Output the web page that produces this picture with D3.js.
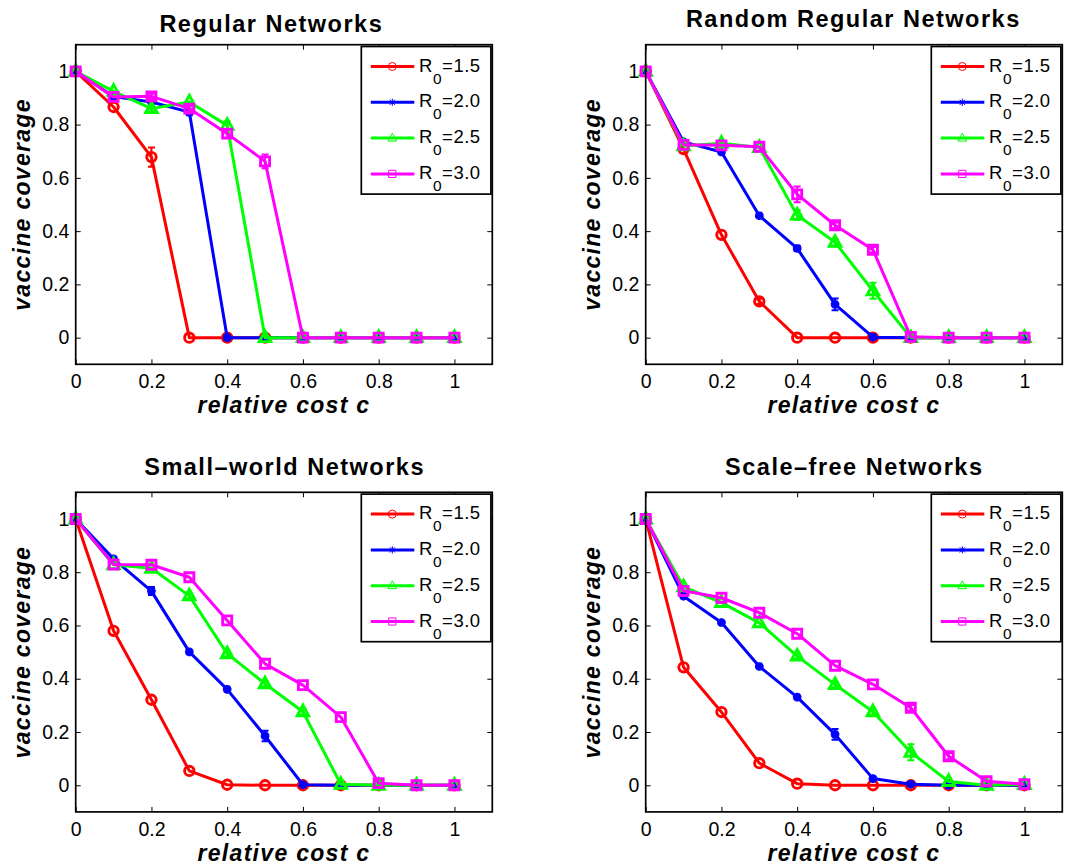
<!DOCTYPE html>
<html>
<head>
<meta charset="utf-8">
<script src="https://cdn.jsdelivr.net/npm/d3@7"></script>
<style>
  html, body { margin: 0; padding: 0; background: #fff; }
  svg { display: block; }
  text { font-family: "Liberation Sans", Arial, Helvetica, sans-serif; fill: #000; }
</style>
</head>
<body>
<svg id="fig" width="1068" height="865"></svg>
<script>
// ---- data ----------------------------------------------------------------
const costs = [0, 0.1, 0.2, 0.3, 0.4, 0.5, 0.6, 0.7, 0.8, 0.9, 1.0];
const r0Labels = ["1.5", "2.0", "2.5", "3.0"];
const panelTitles = ["Regular Networks", "Random Regular Networks", "Small\u2013world Networks", "Scale\u2013free Networks"];
const tickValues = [0, 0.2, 0.4, 0.6, 0.8, 1];
const tickLabels = ["0", "0.2", "0.4", "0.6", "0.8", "1"];

// vaccine coverage, one row per R0 (1.5, 2.0, 2.5, 3.0)
const regularCoverage = [
  [1, 0.866, 0.678, 0, 0, 0, 0, 0, 0, 0, 0],
  [1, 0.905, 0.885, 0.847, 0, 0, 0, 0, 0, 0, 0],
  [1, 0.925, 0.860, 0.885, 0.797, 0, 0, 0, 0, 0, 0],
  [1, 0.904, 0.906, 0.860, 0.766, 0.662, 0, 0, 0, 0, 0]
];
const randomRegularCoverage = [
  [1, 0.708, 0.386, 0.136, 0, 0, 0, 0, 0, 0, 0],
  [1, 0.735, 0.697, 0.458, 0.335, 0.125, 0.002, 0, 0, 0, 0],
  [1, 0.720, 0.730, 0.714, 0.460, 0.358, 0.176, 0, 0, 0, 0],
  [1, 0.724, 0.722, 0.717, 0.538, 0.422, 0.330, 0.003, 0, 0, 0]
];
const smallWorldCoverage = [
  [1, 0.580, 0.321, 0.054, 0.002, 0, 0, 0, 0, 0, 0],
  [1, 0.850, 0.729, 0.501, 0.360, 0.185, 0.002, 0, 0, 0, 0],
  [1, 0.828, 0.815, 0.711, 0.494, 0.381, 0.276, 0.004, 0, 0, 0],
  [1, 0.829, 0.828, 0.781, 0.619, 0.456, 0.376, 0.256, 0.008, 0, 0]
];
const scaleFreeCoverage = [
  [1, 0.443, 0.275, 0.083, 0.006, 0, 0, 0, 0, 0, 0],
  [1, 0.710, 0.611, 0.446, 0.331, 0.191, 0.025, 0.004, 0, 0, 0],
  [1, 0.745, 0.686, 0.610, 0.485, 0.378, 0.276, 0.124, 0.014, 0, 0.003],
  [1, 0.730, 0.704, 0.648, 0.569, 0.449, 0.379, 0.291, 0.109, 0.015, 0.004]
];

// error-bar half widths, same layout as the coverage rows
const regularErr = [
  [0, 0.008, 0.036, 0, 0, 0, 0, 0, 0, 0, 0],
  [0, 0.008, 0.008, 0.012, 0, 0, 0, 0, 0, 0, 0],
  [0, 0.008, 0.010, 0.008, 0.015, 0, 0, 0, 0, 0, 0],
  [0, 0.008, 0.010, 0.010, 0.015, 0.026, 0, 0, 0, 0, 0]
];
const randomRegularErr = [
  [0, 0.008, 0.008, 0.010, 0, 0, 0, 0, 0, 0, 0],
  [0, 0.008, 0.008, 0.008, 0.010, 0.022, 0.004, 0, 0, 0, 0],
  [0, 0.008, 0.008, 0.008, 0.018, 0.012, 0.030, 0, 0, 0, 0],
  [0, 0.008, 0.008, 0.008, 0.030, 0.010, 0.010, 0.004, 0, 0, 0]
];
const smallWorldErr = [
  [0, 0.008, 0.008, 0.006, 0.002, 0, 0, 0, 0, 0, 0],
  [0, 0.008, 0.015, 0.008, 0.008, 0.020, 0.002, 0, 0, 0, 0],
  [0, 0.008, 0.008, 0.010, 0.010, 0.010, 0.010, 0.004, 0, 0, 0],
  [0, 0.008, 0.008, 0.008, 0.008, 0.008, 0.008, 0.008, 0.006, 0, 0]
];
const scaleFreeErr = [
  [0, 0.008, 0.008, 0.008, 0.004, 0, 0, 0, 0, 0, 0],
  [0, 0.008, 0.008, 0.008, 0.008, 0.020, 0.008, 0.004, 0, 0, 0],
  [0, 0.008, 0.008, 0.008, 0.010, 0.010, 0.010, 0.030, 0.008, 0, 0.003],
  [0, 0.008, 0.008, 0.008, 0.008, 0.008, 0.008, 0.010, 0.012, 0.008, 0.004]
];

const panelCoverage = [regularCoverage, randomRegularCoverage, smallWorldCoverage, scaleFreeCoverage];
const panelErr = [regularErr, randomRegularErr, smallWorldErr, scaleFreeErr];

// ---- styling / layout ----------------------------------------------------
const seriesColors = ["#ff0000", "#0000ff", "#00ff00", "#ff00ff"];
const seriesMarkers = ["circle", "asterisk", "triangle", "square"];
const panels = [
  { left: 75.7,  top: 44.7,  titleX: 271.3, titleY: 31.7 },
  { left: 645.7, top: 44.7,  titleX: 853.3, titleY: 26.7 },
  { left: 75.7,  top: 492.3, titleX: 284.6, titleY: 475.0 },
  { left: 645.7, top: 492.3, titleX: 854.3, titleY: 475.0 }
];
const plotW = 416.6, plotH = 319.6;
const FONT = '"Liberation Sans", Arial, Helvetica, sans-serif';

function markerPath(kind, s) {
  switch (kind) {
    case "circle":
      return `M${s},0A${s},${s} 0 1,1 ${-s},0A${s},${s} 0 1,1 ${s},0Z`;
    case "square":
      return `M${-s},${-s}H${s}V${s}H${-s}Z`;
    case "triangle": {
      const h = s * 1.15;
      return `M0,${-h}L${s},${h * 0.6}L${-s},${h * 0.6}Z`;
    }
    case "asterisk": {
      const d = s * 0.72;
      return `M${-s},0H${s}M0,${-s}V${s}M${-d},${-d}L${d},${d}M${-d},${d}L${d},${-d}`;
    }
  }
}
const plotMarkerSize = { circle: 4.7, square: 4.5, triangle: 5.8, asterisk: 4.3 };
const legendMarkerSize = { circle: 4.0, square: 3.6, triangle: 4.3, asterisk: 3.6 };

const svg = d3.select("#fig");

panels.forEach((p, pi) => {
  const x = d3.scaleLinear().domain([0, 1.1]).range([p.left, p.left + plotW]);
  const y = d3.scaleLinear().domain([-0.1, 1.1]).range([p.top + plotH, p.top]);
  const g = svg.append("g");
  const bottom = p.top + plotH;

  // inward ticks on all four sides
  const fmt = (d, i) => tickLabels[i];
  const axB = g.append("g").attr("transform", `translate(0,${bottom})`)
    .call(d3.axisBottom(x).tickValues(tickValues).tickFormat(fmt).tickSizeInner(-5).tickSizeOuter(0).tickPadding(10));
  const axT = g.append("g").attr("transform", `translate(0,${p.top})`)
    .call(d3.axisTop(x).tickValues(tickValues).tickFormat("").tickSizeInner(-5).tickSizeOuter(0));
  const axL = g.append("g").attr("transform", `translate(${p.left},0)`)
    .call(d3.axisLeft(y).tickValues(tickValues).tickFormat(fmt).tickSizeInner(-5).tickSizeOuter(0).tickPadding(6.4));
  const axR = g.append("g").attr("transform", `translate(${p.left + plotW},0)`)
    .call(d3.axisRight(y).tickValues(tickValues).tickFormat("").tickSizeInner(-5).tickSizeOuter(0));
  [axB, axT, axL, axR].forEach(a => {
    a.select(".domain").remove();
    a.selectAll(".tick line").attr("stroke", "#000").attr("stroke-width", 1);
    a.selectAll("text").attr("font-family", FONT).attr("font-size", 19.5).attr("fill", "#000");
  });
  axB.selectAll("text").attr("dy", "0.71em");

  // data series: line, error bars, markers
  panelCoverage[pi].forEach((vals, si) => {
    const color = seriesColors[si];
    const pts = costs.map((c, k) => ({ c, v: vals[k], e: panelErr[pi][si][k] }));
    const line = d3.line().x(d => x(d.c)).y(d => y(d.v));
    g.append("path").datum(pts).attr("d", line)
      .attr("fill", "none").attr("stroke", color).attr("stroke-width", 3)
      .attr("stroke-linejoin", "round");
    const eb = g.append("g").attr("stroke", color).attr("stroke-width", 2).attr("fill", "none");
    pts.filter(d => d.e > 0.009).forEach(d => {
      const cx = x(d.c), y0 = y(d.v - d.e), y1 = y(d.v + d.e);
      eb.append("path").attr("d", `M${cx},${y0}V${y1}M${cx - 3.5},${y0}H${cx + 3.5}M${cx - 3.5},${y1}H${cx + 3.5}`);
    });
    const kind = seriesMarkers[si];
    g.append("g").selectAll("path").data(pts).join("path")
      .attr("d", markerPath(kind, plotMarkerSize[kind]))
      .attr("transform", d => `translate(${x(d.c)},${y(d.v)})`)
      .attr("fill", "none").attr("stroke", color).attr("stroke-width", 2.9);
  });

  // axes box
  g.append("rect").attr("x", p.left).attr("y", p.top).attr("width", plotW).attr("height", plotH)
    .attr("fill", "none").attr("stroke", "#000").attr("stroke-width", 1.7);

  // title and axis labels
  g.append("text").attr("x", p.titleX).attr("y", p.titleY).attr("text-anchor", "middle")
    .attr("font-size", 23.5).attr("font-weight", "bold").attr("letter-spacing", 1.5)
    .text(panelTitles[pi]);
  g.append("text").attr("x", p.left + plotW / 2).attr("y", bottom + 48.6).attr("text-anchor", "middle")
    .attr("font-size", 23).attr("font-weight", "bold").attr("font-style", "italic").attr("letter-spacing", 1.3)
    .text("relative cost c");
  g.append("text").attr("transform", `translate(${p.left - 46},${p.top + plotH / 2}) rotate(-90)`)
    .attr("text-anchor", "middle")
    .attr("font-size", 23).attr("font-weight", "bold").attr("font-style", "italic").attr("letter-spacing", 1.3)
    .text("vaccine coverage");

  // legend
  const lx = p.left + 285.6, ly = p.top + 1.8, lw = 129.6, lh = 147.6;
  const lg = g.append("g");
  lg.append("rect").attr("x", lx).attr("y", ly).attr("width", lw).attr("height", lh)
    .attr("fill", "#fff").attr("stroke", "#000").attr("stroke-width", 1.7);
  r0Labels.forEach((lab, si) => {
    const ry = ly + 20 + si * 35.8;
    const color = seriesColors[si], kind = seriesMarkers[si];
    lg.append("line").attr("x1", lx + 9.5).attr("x2", lx + 53).attr("y1", ry).attr("y2", ry)
      .attr("stroke", color).attr("stroke-width", 3);
    lg.append("path").attr("d", markerPath(kind, legendMarkerSize[kind]))
      .attr("transform", `translate(${lx + 31},${ry})`)
      .attr("fill", "none").attr("stroke", color).attr("stroke-width", 1);
    const t = lg.append("text").attr("x", lx + 57.8).attr("y", ry + 5)
      .attr("font-size", 18.5).attr("letter-spacing", 0.5);
    t.append("tspan").text("R");
    t.append("tspan").attr("font-size", 15.5).attr("dy", 12).text("0");
    t.append("tspan").attr("dy", -12).text("=" + lab);
  });
});
</script>
</body>
</html>
